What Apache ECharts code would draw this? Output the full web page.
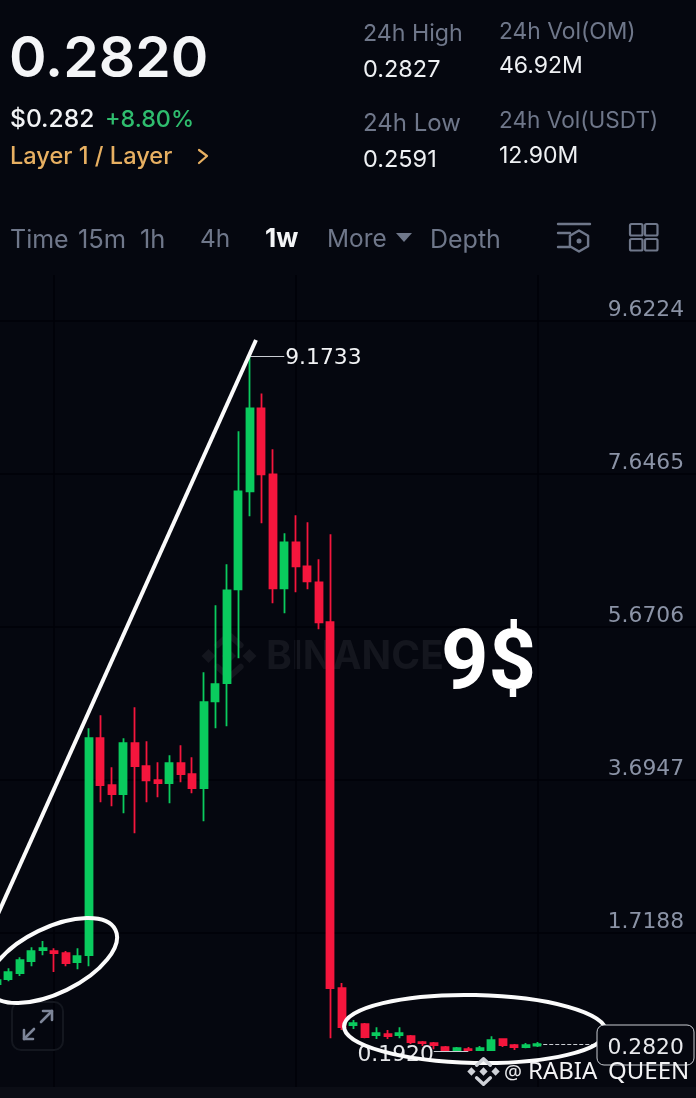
<!DOCTYPE html>
<html><head><meta charset="utf-8">
<style>html,body{margin:0;padding:0;background:#05070f}#c{width:696px;height:1098px}</style>
<script src="https://cdn.jsdelivr.net/npm/echarts@6/dist/echarts.min.js"></script>
</head><body><div id="c"></div>
<script>
const opens  = [1.059,1.123,1.201,1.356,1.498,1.485,1.459,1.343,1.433,4.234,3.628,3.512,4.170,3.873,3.692,3.654,3.912,3.770,3.589,4.712,4.945,6.158,7.423,8.495,7.643,6.171,6.765,6.455,6.248,5.732,1.007,0.529,0.542,0.400,0.413,0.400,0.387,0.310,0.297,0.245,0.205,0.220,0.207,0.207,0.349,0.271,0.245,0.265];
const closes = [1.110,1.214,1.368,1.485,1.523,1.459,1.330,1.420,4.234,3.628,3.512,4.170,3.873,3.692,3.654,3.912,3.770,3.589,4.699,4.932,6.145,7.423,8.495,7.643,6.171,6.765,6.455,6.261,5.732,1.007,0.503,0.555,0.374,0.426,0.387,0.426,0.310,0.297,0.271,0.205,0.232,0.205,0.232,0.336,0.271,0.245,0.271,0.282];
const lows   = [1.046,1.097,1.162,1.291,1.433,1.214,1.291,1.252,1.291,3.408,3.357,3.266,3.008,3.408,3.473,3.395,3.666,3.524,3.163,4.364,4.389,5.267,7.101,7.010,5.977,5.848,6.119,6.158,5.642,0.361,0.465,0.478,0.361,0.349,0.349,0.361,0.284,0.258,0.219,0.197,0.195,0.192,0.200,0.205,0.245,0.207,0.232,0.245];
const highs  = [1.136,1.265,1.407,1.536,1.614,1.523,1.485,1.523,4.364,4.531,3.860,4.234,4.635,4.196,3.925,4.015,4.144,3.989,5.087,5.952,6.481,8.198,9.1733,8.688,7.965,6.881,7.113,7.023,6.545,6.868,1.072,0.594,0.555,0.503,0.465,0.503,0.400,0.323,0.310,0.258,0.245,0.245,0.258,0.387,0.361,0.284,0.297,0.310];
const categories = Array.from({length:62},(_,i)=>'W'+(i+1));
const yTicks = [1.7188,3.6947,5.6706,7.6465,9.6224];
const lastPrice = 0.2820, highPrice = 9.1733, lowPrice = 0.1920;
const BG='#05070f', GREEN='#0acb5e', RED='#f5163d', GRID='#010208', MUTED='#6f778a', LABEL='#8b93a6';
const FONT='Inter', NUM='DejaVu Sans';

function t(text,x,y,size,fill,weight,extra){
  return {type:'text',x,y,z:30,silent:true,style:Object.assign({text,fontSize:size,fontFamily:FONT,fontWeight:weight||400,fill,align:'left',verticalAlign:'middle'},extra||{})};
}
function poly(points,stroke,w,z){
  return {type:'polyline',z:z??30,silent:true,shape:{points},style:{stroke,lineWidth:w,fill:null,lineCap:'round',lineJoin:'round'}};
}
function pg(points,fill,z){return {type:'polygon',z:z??30,silent:true,shape:{points},style:{fill}};}
function logo(cx,cy,s,color,z){
  const d=(x,y,r)=>pg([[cx+x*s,cy+(y-r)*s],[cx+(x+r)*s,cy+y*s],[cx+x*s,cy+(y+r)*s],[cx+(x-r)*s,cy+y*s]],color,z);
  const c=(pts)=>poly(pts.map(p=>[cx+p[0]*s,cy+p[1]*s]),color,3*s,z);
  return [d(0,0,3.6),d(-10.5,0,3.6),d(10.5,0,3.6),c([[-6,-5.5],[0,-11],[6,-5.5]]),c([[-6,5.5],[0,11],[6,5.5]])];
}
function hexagon(cx,cy,r,stroke){
  const p=[];for(let i=0;i<7;i++){const a=Math.PI/3*i+Math.PI/2;p.push([cx+r*Math.cos(a),cy+r*Math.sin(a)]);}
  return poly(p,stroke,2.4);
}

const graphics=[
  ...logo(229,656,1.95,'#14161e',0),
  {type:'text',x:266,y:657,z:0,silent:true,style:{text:'BINANCE',fontSize:39,fontWeight:700,fontFamily:FONT,fill:'#14161e',align:'left',verticalAlign:'middle'}},
  {type:'rect',z:0,silent:true,shape:{x:0,y:1087,width:696,height:11},style:{fill:'#0b0d15'}},
  t('0.2820',9,60,57,'#f4f5f7',600),
  t('$0.282',10,120,24.6,'#f2f3f5',500),
  t('+8.80%',105,120,23.3,'#2fbd6e',500),
  t('Layer 1 / Layer',10,157,23.6,'#e8b062',500),
  poly([[199,150],[207,156],[199,163]],'#e8b062',2.2),
  t('24h High',363,34,23.2,MUTED),
  t('0.2827',363,70,23.5,'#eef0f3'),
  t('24h Vol(OM)',499,32,22.8,MUTED),
  t('46.92M',499,66,23,'#eef0f3'),
  t('24h Low',363,124,24,MUTED),
  t('0.2591',363,160,23.5,'#eef0f3'),
  t('24h Vol(USDT)',499,121,22.6,MUTED),
  t('12.90M',499,156,23,'#eef0f3'),
  t('Time',10,240,25,MUTED),
  t('15m',78,240,25.5,MUTED),
  t('1h',140,240,25.5,MUTED),
  t('4h',200,240,24.4,MUTED),
  t('1w',265,239,26,'#f4f5f7',700),
  t('More',327,240,24.4,MUTED),
  pg([[396,233],[412,233],[404,242]],MUTED),
  t('Depth',430,240,25,MUTED),
  poly([[558,224],[590,224]],MUTED,2.4),
  poly([[558,233],[570,233]],MUTED,2.4),
  poly([[558,247],[570,247]],MUTED,2.4),
  hexagon(579,241,10.5,MUTED),
  {type:'circle',z:30,silent:true,shape:{cx:579,cy:241,r:2.5},style:{fill:MUTED}},
  ...[[630,224],[645,224],[630,239],[645,239]].map(p=>({type:'rect',z:30,silent:true,shape:{x:p[0],y:p[1],width:12.5,height:11.5,r:1.5},style:{fill:null,stroke:MUTED,lineWidth:2.2}})),
  {type:'line',z:25,silent:true,shape:{x1:-3,y1:916,x2:256,y2:340},style:{stroke:'#fbfbfb',lineWidth:4}},
  {type:'ellipse',z:25,silent:true,x:52.5,y:960.5,rotation:0.454,shape:{cx:0,cy:0,rx:70,ry:32.7},style:{fill:null,stroke:'#fbfbfb',lineWidth:4}},
  {type:'ellipse',z:25,silent:true,x:475,y:1029,rotation:-0.02,shape:{cx:0,cy:0,rx:131,ry:34},style:{fill:null,stroke:'#fbfbfb',lineWidth:4}},
  t('9$',441,667,83,'#ffffff',700,{fontFamily:'Roboto'}),
  {type:'rect',z:5,silent:true,shape:{x:12,y:1002,width:51,height:48,r:9},style:{fill:null,stroke:'#14171f',lineWidth:2}},
  poly([[41,1022],[52,1011]],'#7d8598',2.6,6),poly([[43,1011],[52,1011],[52,1020]],'#7d8598',2.6,6),
  poly([[34,1029],[24,1039]],'#7d8598',2.6,6),poly([[24,1030],[24,1039],[33,1039]],'#7d8598',2.6,6),
  {type:'rect',z:26,silent:true,shape:{x:597,y:1025,width:97,height:40,r:7},style:{fill:BG,stroke:'#c9ccd2',lineWidth:1}},
  t(lastPrice.toFixed(4),607.5,1048,21.8,'#e8e9ec',400,{fontFamily:NUM}),
  ...logo(483.5,1071.5,1.15,'#cfd2d8',28),
  t('@',504,1073,20,'#e8e9ec',400,{fontFamily:'Noto Sans'}),
  t('RABIA',528,1072,24,'#f2f2f4',400,{fontFamily:'Noto Sans'}),
  t('QUEEN',608,1072,24,'#f2f2f4',400,{fontFamily:'Noto Sans'}),
];

const chart=echarts.init(document.getElementById('c'),null,{renderer:'canvas'});
chart.setOption({
  animation:false,
  backgroundColor:BG,
  grid:{left:-9,top:275,width:713,height:812,containLabel:false,outerBoundsMode:'none'},
  xAxis:{type:'category',data:categories,axisLine:{show:false},axisTick:{show:false,alignWithLabel:true},axisLabel:{show:false},
    splitLine:{show:true,alignWithLabel:true,interval:(i)=>(i-5)%21===0,lineStyle:{color:GRID,width:1.5}}},
  yAxis:{type:'value',position:'right',min:-0.27,max:10.217,
    axisLine:{show:false},axisTick:{show:false,customValues:yTicks},
    splitLine:{show:true,lineStyle:{color:GRID,width:1.5}},
    axisLabel:{inside:true,customValues:yTicks,margin:20,color:LABEL,fontSize:21.8,fontFamily:NUM,verticalAlign:'bottom',lineHeight:22,formatter:(v)=>v.toFixed(4)}},
  graphic:{elements:graphics},
  series:[{type:'candlestick',barWidth:7.6,z:10,
    itemStyle:{color:GREEN,color0:RED,borderColor:GREEN,borderColor0:RED,borderWidth:1.8},
    data:opens.map((o,i)=>[o,closes[i],lows[i],highs[i]]),
    markLine:{silent:true,symbol:'none',animation:false,data:[
      [{coord:[categories[22],highPrice],lineStyle:{color:'#c9ccd2',width:1,type:'solid'},label:{show:true,position:'end',distance:1,offset:[0,2.5],formatter:highPrice.toFixed(4),color:'#f2f3f5',fontSize:21.8,fontFamily:NUM}},{coord:[categories[25],highPrice]}],
      [{coord:[categories[41],lowPrice],lineStyle:{color:'#c9ccd2',width:1,type:'solid'},label:{show:true,position:'end',distance:0,offset:[0,4],formatter:lowPrice.toFixed(4),color:'#e6e7ea',fontSize:21.8,fontFamily:NUM}},{coord:[categories[38],lowPrice]}],
      [{coord:[categories[47],lastPrice],lineStyle:{color:'#c9ccd2',width:1,type:'dashed'},label:{show:false}},{coord:[categories[53],lastPrice]}]
    ]}
  }]
});
</script></body></html>
